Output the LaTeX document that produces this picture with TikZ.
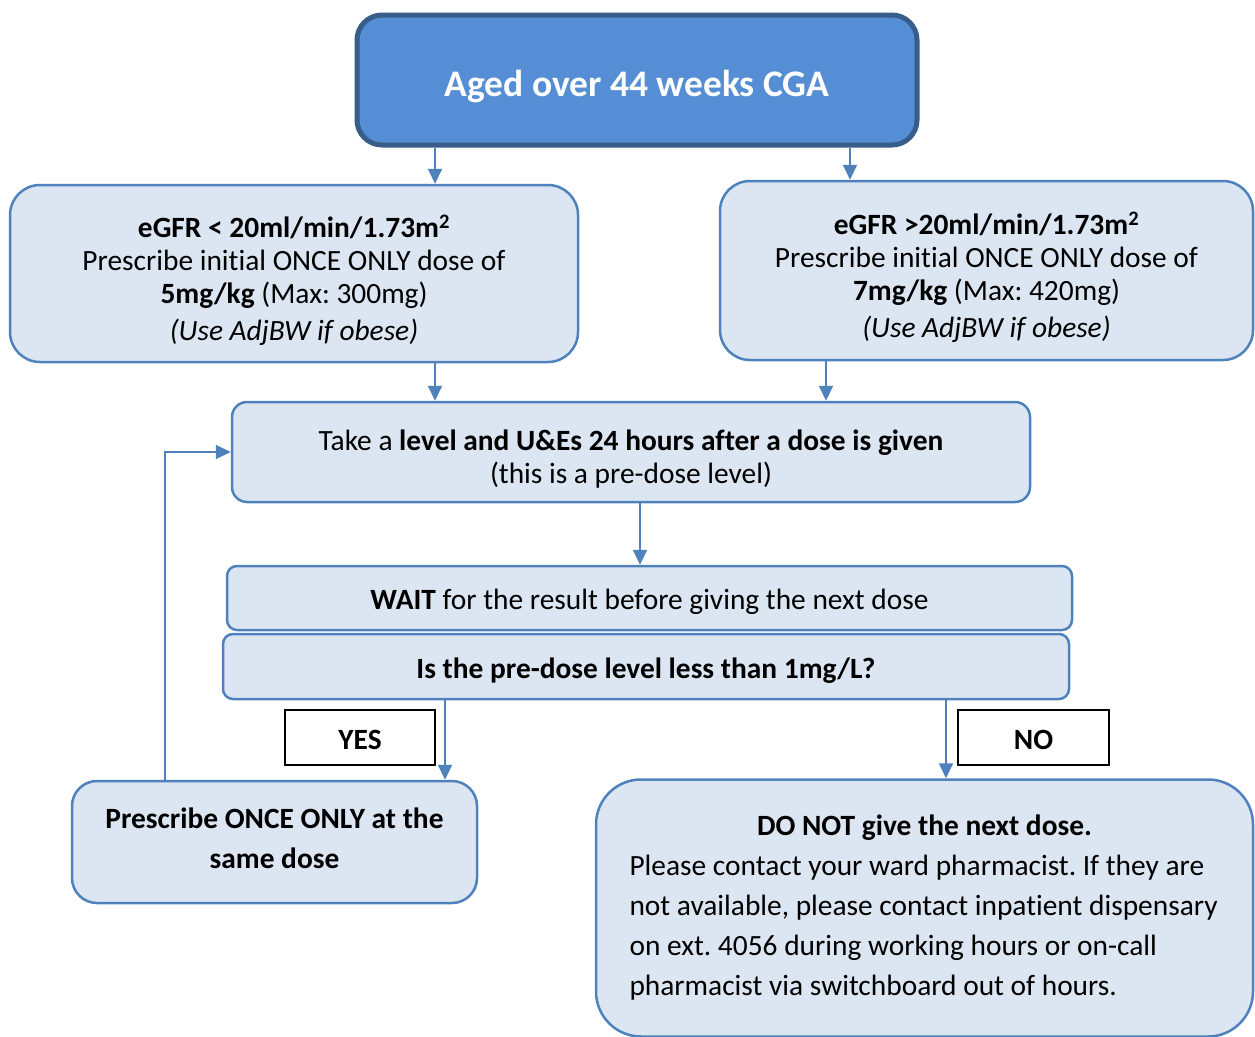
\documentclass[tikz,border=0pt]{standalone}
\usepackage{fontspec}
\setmainfont{Carlito}[Ligatures={NoCommon}]
\usepackage{tikz}
\usetikzlibrary{arrows.meta, positioning}
\usepackage{xcolor}
\frenchspacing

\definecolor{boxfill}{RGB}{220,230,242}
\definecolor{boxline}{RGB}{79,129,189}
\definecolor{headfill}{RGB}{85,142,213}
\definecolor{headline}{RGB}{56,93,138}

% struts to nudge the text inside a box
\newcommand{\padtop}[1]{\rule{0pt}{#1}}
\newcommand{\padbot}[1]{\rule[-#1]{0pt}{0pt}}

\tikzset{
    txt/.style={font=\fontsize{29.4}{33}\selectfont},
    stepbox/.style={txt, draw=boxline, line width=2.5pt, fill=boxfill, align=center, inner sep=0pt},
    headbox/.style={draw=headline, line width=5pt, fill=headfill, rounded corners=25pt, text=white, font=\fontsize{37.5}{42}\selectfont\bfseries},
    answer/.style={txt, draw=black, line width=2.5pt, fill=white, text height=25pt, font=\fontsize{29.4}{33}\selectfont\bfseries},
    arr/.style={draw=boxline, line width=2pt, -{Triangle[width=14pt,length=15pt]}}
}

\begin{document}
\begin{tikzpicture}[x=1pt, y=-1pt]

    \useasboundingbox (0,0) rectangle (1255,1036);

    \node[headbox, minimum width=560pt, minimum height=130pt, text height=40pt] (age) at (637,80) {Aged over 44 weeks CGA};

    \node[stepbox, rounded corners=30pt, minimum width=568pt, minimum height=177pt] (low) at (294,273.5)
        {\padtop{36pt}\textbf{eGFR < 20ml/min/1.73m\textsuperscript{2}}\\
         Prescribe initial ONCE ONLY dose of\\
         \textbf{5mg/kg} (Max: 300mg)\\[4pt]
         \textit{(Use AdjBW if obese)}};
    \node[stepbox, rounded corners=30pt, minimum width=533pt, minimum height=179pt] (high) at (986.5,270.5)
        {\padtop{36pt}\textbf{eGFR >20ml/min/1.73m\textsuperscript{2}}\\
         Prescribe initial ONCE ONLY dose of\\
         \textbf{7mg/kg} (Max: 420mg)\\[4pt]
         \textit{(Use AdjBW if obese)}};

    \node[stepbox, rounded corners=15pt, minimum width=798pt, minimum height=100pt] (level) at (631,452)
        {\padtop{34pt}Take a \textbf{level and U\&Es 24 hours after a dose is given}\\
         (this is a pre-dose level)};

    \node[stepbox, rounded corners=10pt, minimum width=845pt, minimum height=64pt] (wait) at (649.5,598)
        {\padtop{28pt}\textbf{WAIT} for the result before giving the next dose};
    \node[stepbox, rounded corners=10pt, minimum width=846pt, minimum height=65pt] (ask) at (646,666.5)
        {\padtop{28pt}\textbf{Is the pre-dose level less than 1mg/L?}};

    \node[answer, minimum width=150pt, minimum height=55pt] (yes) at (360,737.5) {YES};
    \node[answer, minimum width=151pt, minimum height=55pt] (no) at (1033.5,737.5) {NO};

    \node[stepbox, rounded corners=25pt, minimum width=405pt, minimum height=122pt, font=\fontsize{29.4}{40}\selectfont\bfseries] (same) at (274.5,842)
        {Prescribe ONCE ONLY at the\\ same dose\padbot{8pt}};

    \node[stepbox, rounded corners=45pt, minimum width=657pt, minimum height=257pt] (stop) at (924.5,908)
        {\begin{minipage}{590pt}
         \fontsize{29.4}{40}\selectfont
         \centering\textbf{DO NOT give the next dose.}\par
         \raggedright
         Please contact your ward pharmacist. If they are\\
         not available, please contact inpatient dispensary\\
         on ext. 4056 during working hours or on-call\\
         pharmacist via switchboard out of hours.
         \end{minipage}};

    % arrow columns
    \coordinate (c1) at (435,0);
    \coordinate (c2) at (850,0);
    \coordinate (c3) at (826,0);
    \coordinate (c4) at (640,0);
    \coordinate (c5) at (445,0);
    \coordinate (c6) at (946,0);
    \coordinate (c7) at (165,0);

    \draw[arr] (age.south -| c1) -- (low.north -| c1);
    \draw[arr] (age.south -| c2) -- (high.north -| c2);
    \draw[arr] (low.south -| c1) -- (level.north -| c1);
    \draw[arr] (high.south -| c3) -- (level.north -| c3);
    \draw[arr] (level.south -| c4) -- (wait.north -| c4);
    \draw[arr] (ask.south -| c5) -- (same.north -| c5);
    \draw[arr] (ask.south -| c6) -- (stop.north -| c6);
    \draw[arr] (same.north -| c7) |- (level.west);

\end{tikzpicture}
\end{document}
